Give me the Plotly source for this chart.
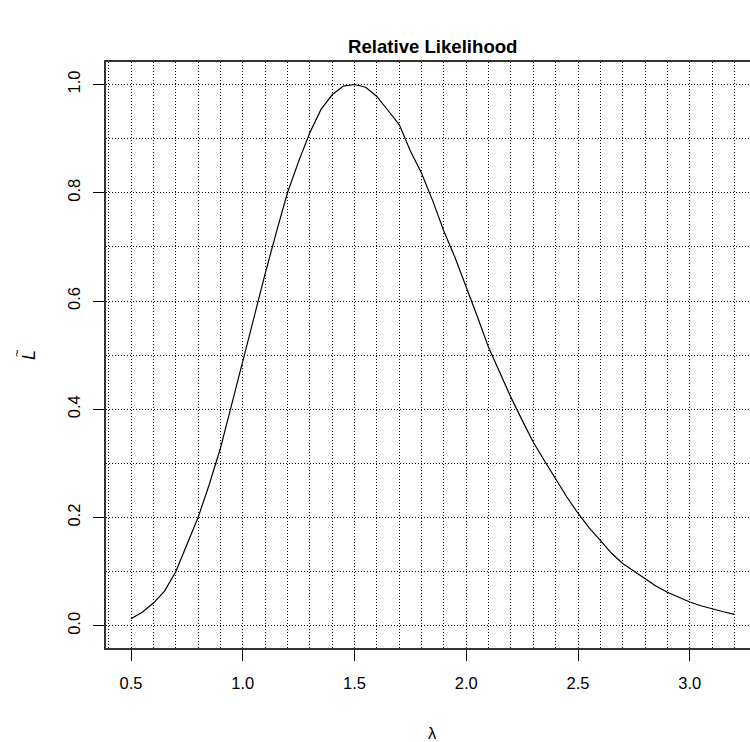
import plotly.graph_objects as go

# Data
lam = [0.50, 0.55, 0.60, 0.65, 0.70, 0.75, 0.80, 0.85, 0.90, 0.95,
       1.00, 1.05, 1.10, 1.15, 1.20, 1.25, 1.30, 1.35, 1.40, 1.45,
       1.50, 1.55, 1.60, 1.65, 1.70, 1.75, 1.80, 1.85, 1.90, 1.95,
       2.00, 2.05, 2.10, 2.15, 2.20, 2.25, 2.30, 2.35, 2.40, 2.45,
       2.50, 2.55, 2.60, 2.65, 2.70, 2.75, 2.80, 2.85, 2.90, 2.95,
       3.00, 3.05, 3.10, 3.15, 3.20]
rel_lik = [0.013, 0.025, 0.042, 0.064, 0.100, 0.150, 0.200, 0.261, 0.328, 0.408,
           0.490, 0.573, 0.650, 0.727, 0.800, 0.858, 0.911, 0.954, 0.981, 0.997,
           1.000, 0.995, 0.978, 0.952, 0.926, 0.877, 0.836, 0.785, 0.729, 0.680,
           0.626, 0.571, 0.514, 0.467, 0.422, 0.380, 0.339, 0.305, 0.271, 0.238,
           0.208, 0.181, 0.158, 0.134, 0.115, 0.101, 0.087, 0.073, 0.062, 0.053,
           0.044, 0.037, 0.031, 0.026, 0.021]

title_text = "Relative Likelihood"
x_label = "λ"
y_label_letter = "<i>L</i>"
y_label_accent = "~"

FONT = "Liberation Sans, Arial, Helvetica, sans-serif"
DASH = "1px,2px"
TICK_SIZE = 16.5

fig = go.Figure()
fig.add_trace(go.Scatter(x=lam, y=rel_lik, mode="lines",
                         line=dict(color="black", width=1.2),
                         hoverinfo="skip", showlegend=False))

fig.update_layout(
    width=750, height=742,
    margin=dict(l=106, r=0, t=62, b=94, pad=0),
    plot_bgcolor="white", paper_bgcolor="white",
    font=dict(family=FONT, color="black", size=TICK_SIZE),
    showlegend=False,
)

fig.update_xaxes(
    range=[0.388, 3.2696], tickmode="linear", tick0=0.5, dtick=0.5,
    tickformat=".1f", ticks="outside", ticklen=11, tickwidth=1, tickcolor="black",
    showgrid=True, gridcolor="black", gridwidth=1, griddash=DASH,
    minor=dict(tick0=0.4, dtick=0.1, showgrid=True, gridcolor="black",
               gridwidth=1, griddash=DASH, ticks=""),
    showline=True, linecolor="#333", linewidth=1.5, mirror=True,
    zeroline=False, tickfont=dict(size=TICK_SIZE, family=FONT),
    ticklabelstandoff=8,
)
fig.update_yaxes(
    range=[-0.041, 1.0416], tickmode="linear", tick0=0.0, dtick=0.2,
    tickformat=".1f", ticks="outside", ticklen=11, tickwidth=1, tickcolor="black",
    showgrid=True, gridcolor="black", gridwidth=1, griddash=DASH,
    minor=dict(tick0=0.0, dtick=0.1, showgrid=True, gridcolor="black",
               gridwidth=1, griddash=DASH, ticks=""),
    showline=True, linecolor="#333", linewidth=1.5, mirror=False,
    zeroline=False, tickangle=-90, tickfont=dict(size=TICK_SIZE, family=FONT),
    ticklabelstandoff=7,
)

# Plot area spans 106..750 px horizontally (R's region extends past the right edge),
# 62..648 px vertically.
PX_L, PX_R, PX_T, PX_B = 106, 750, 62, 648
def px_x(px):
    return (px - PX_L) / (PX_R - PX_L)
def px_y(py):
    return (PX_B - py) / (PX_B - PX_T)

fig.add_annotation(text="<b>" + title_text + "</b>", xref="paper", yref="paper",
                   x=px_x(432.7), y=px_y(47), xanchor="center", yanchor="middle",
                   showarrow=False, font=dict(size=18.6, family=FONT, color="black"))
fig.add_annotation(text=x_label, xref="paper", yref="paper",
                   x=px_x(432.7), y=px_y(733), xanchor="center", yanchor="middle",
                   showarrow=False, font=dict(size=TICK_SIZE, family=FONT, color="black"))
# y-axis label: italic L with a tilde above it (rotated reading bottom-to-top)
fig.add_annotation(text=y_label_letter, xref="paper", yref="paper",
                   x=px_x(29), y=px_y(355), xanchor="center", yanchor="middle",
                   textangle=-90, showarrow=False,
                   font=dict(size=18, family=FONT, color="black"))
fig.add_annotation(text=y_label_accent, xref="paper", yref="paper",
                   x=px_x(17), y=px_y(353), xanchor="center", yanchor="middle",
                   textangle=-90, showarrow=False,
                   font=dict(size=13, family=FONT, color="black"))

fig.write_html("out.html")
